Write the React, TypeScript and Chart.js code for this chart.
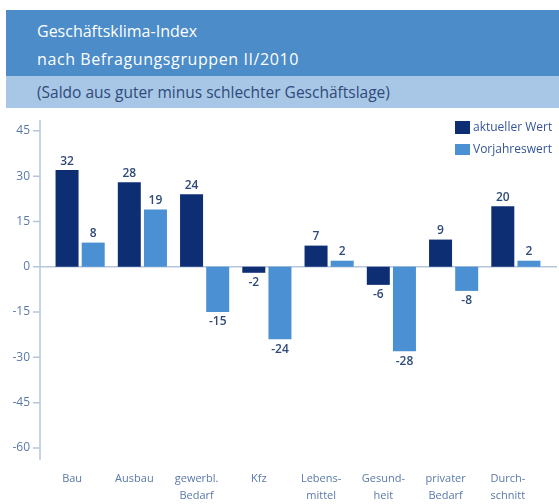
import React, { useEffect, useRef } from "react";
import { Chart, registerables } from "chart.js";

Chart.register(...registerables);

const categories: string[][] = [
  ["Bau"],
  ["Ausbau"],
  ["gewerbl.", "Bedarf"],
  ["Kfz"],
  ["Lebens-", "mittel"],
  ["Gesund-", "heit"],
  ["privater", "Bedarf"],
  ["Durch-", "schnitt"],
];
const currentValues = [32, 28, 24, -2, 7, -6, 9, 20];
const previousYearValues = [8, 19, -15, -24, 2, -28, -8, 2];
const yTicks = [45, 30, 15, 0, -15, -30, -45, -60];
const seriesNames = ["aktueller Wert", "Vorjahreswert"];

const FONT = '"Open Sans", "Noto Sans", sans-serif';
const DARK = "#0e2e74";
const LIGHT = "#4b90d2";
const AXIS = "#b5c6dc";
const TEXT = "#2f4a7a";
const TICK = "#5a79aa";

export default function App() {
  const ref = useRef<HTMLCanvasElement>(null);

  useEffect(() => {
    if (!ref.current) return;
    const decor = {
      id: "decor",
      beforeDatasetsDraw(chart: any) {
        const { ctx, chartArea, scales } = chart;
        const y = scales.y;
        const axisX = chartArea.left - 9;
        ctx.save();
        ctx.strokeStyle = AXIS;
        ctx.lineWidth = 1.5;
        ctx.beginPath();
        ctx.moveTo(axisX, chartArea.top);
        ctx.lineTo(axisX, chartArea.bottom);
        yTicks.forEach((v) => {
          const py = y.getPixelForValue(v);
          ctx.moveTo(axisX - 7, py);
          ctx.lineTo(axisX, py);
        });
        ctx.stroke();
        const zy = y.getPixelForValue(0);
        ctx.beginPath();
        ctx.moveTo(axisX, zy);
        ctx.lineTo(chart.width - 2, zy);
        ctx.stroke();
        ctx.restore();
      },
      afterDatasetsDraw(chart: any) {
        const { ctx } = chart;
        ctx.save();
        ctx.font = `600 12px ${FONT}`;
        ctx.fillStyle = TEXT;
        ctx.textAlign = "center";
        chart.data.datasets.forEach((ds: any, di: number) => {
          const meta = chart.getDatasetMeta(di);
          meta.data.forEach((el: any, i: number) => {
            const v = ds.data[i];
            if (v >= 0) {
              ctx.textBaseline = "bottom";
              ctx.fillText(String(v), el.x, el.y - 3);
            } else {
              ctx.textBaseline = "top";
              ctx.fillText(String(v), el.x, el.y + 4);
            }
          });
        });
        ctx.restore();
      },
    };

    const chart = new Chart(ref.current, {
      type: "bar",
      data: {
        labels: categories,
        datasets: [
          {
            label: seriesNames[0],
            data: currentValues,
            backgroundColor: DARK,
            categoryPercentage: 0.84,
            barPercentage: 0.88,
          },
          {
            label: seriesNames[1],
            data: previousYearValues,
            backgroundColor: LIGHT,
            categoryPercentage: 0.84,
            barPercentage: 0.88,
          },
        ],
      },
      options: {
        animation: false,
        responsive: false,
        maintainAspectRatio: false,
        layout: { padding: { top: 10, right: 12, left: 0, bottom: 0 } },
        plugins: {
          legend: { display: false },
          tooltip: { enabled: false },
          title: { display: false },
        },
        scales: {
          x: {
            grid: { display: false, drawTicks: false },
            border: { display: false },
            ticks: {
              color: TICK,
              font: { family: FONT, size: 11, lineHeight: 1.5 },
              padding: 11,
              labelOffset: -8,
              maxRotation: 0,
              autoSkip: false,
            },
            afterFit(scale: any) {
              scale.height = 44;
              scale.paddingLeft = 0;
              scale.paddingRight = 0;
            },
          },
          y: {
            min: -64,
            max: 48.6,
            grid: { display: false, drawTicks: false },
            border: { display: false },
            ticks: {
              color: TICK,
              font: { family: FONT, size: 12 },
              padding: 19,
            },
            afterBuildTicks(scale: any) {
              scale.ticks = yTicks.map((v) => ({ value: v }));
            },
            afterFit(scale: any) {
              scale.width = 49;
              scale.paddingTop = 0;
              scale.paddingBottom = 0;
            },
          },
        },
      },
      plugins: [decor],
    });
    return () => chart.destroy();
  }, []);

  return (
    <div
      style={{
        position: "fixed",
        left: 0,
        top: 0,
        width: 559,
        height: 504,
        background: "#fff",
        fontFamily: FONT,
        overflow: "hidden",
      }}
    >
      <div
        style={{
          position: "absolute",
          left: 6,
          top: 10,
          right: 0,
          height: 66,
          background: "#4b8cc9",
          color: "#fff",
          fontSize: 16,
          lineHeight: "28px",
          paddingTop: 7,
          paddingLeft: 31,
          boxSizing: "border-box",
        }}
      >
        <div>Geschäftsklima-Index</div>
        <div style={{ letterSpacing: 0.6 }}>nach Befragungsgruppen II/2010</div>
      </div>
      <div
        style={{
          position: "absolute",
          left: 6,
          top: 76,
          right: 0,
          height: 32,
          background: "#a8c7e6",
          color: TEXT,
          fontSize: 15.5,
          lineHeight: "32px",
          paddingLeft: 31,
          boxSizing: "border-box",
          whiteSpace: "nowrap",
        }}
      >
        (Saldo aus guter minus schlechter Geschäftslage)
      </div>
      <canvas
        ref={ref}
        width={559}
        height={394}
        style={{ position: "absolute", left: 0, top: 110, width: 559, height: 394 }}
      />
      <div
        style={{
          position: "absolute",
          left: 455,
          top: 116,
          fontSize: 12,
          color: "#34549a",
          lineHeight: "22px",
          whiteSpace: "nowrap",
        }}
      >
        <div style={{ display: "flex", alignItems: "center" }}>
          <span style={{ display: "inline-block", width: 15, height: 13, background: DARK, marginRight: 3 }} />
          {seriesNames[0]}
        </div>
        <div style={{ display: "flex", alignItems: "center" }}>
          <span style={{ display: "inline-block", width: 15, height: 11, background: LIGHT, marginRight: 3 }} />
          {seriesNames[1]}
        </div>
      </div>
    </div>
  );
}
